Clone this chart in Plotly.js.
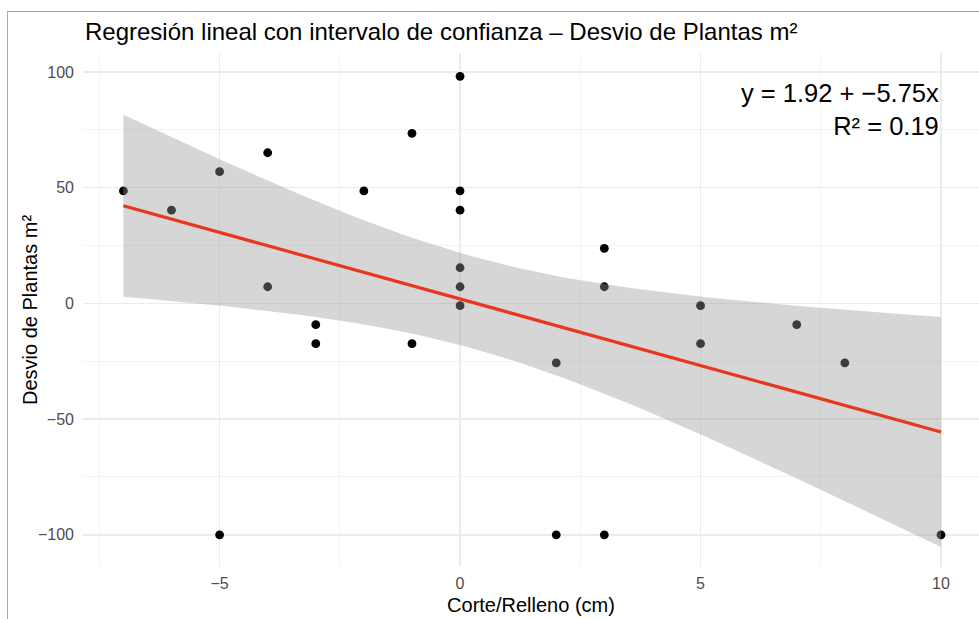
<!DOCTYPE html>
<html>
<head>
<meta charset="utf-8">
<script src="https://cdn.plot.ly/plotly-3.0.1.min.js"></script>
<style>
  html, body { margin: 0; padding: 0; background: #ffffff; }
  #wrap { position: relative; width: 979px; height: 619px; overflow: hidden; }
  #chart { position: absolute; left: 0; top: 0; width: 979px; height: 619px; }
  #frame { position: absolute; left: 7px; top: 11px; width: 980px; height: 620px;
           border-top: 1px solid #a8a8a8; border-left: 1px solid #a8a8a8; pointer-events: none; }
</style>
</head>
<body>
<div id="wrap">
  <div id="chart"></div>
  <div id="frame"></div>
</div>
<script>
// ---- Data ----
const corteRelleno = [-7, -6, -5, -5, -4, -4, -3, -3, -2, -1, -1, 0, 0, 0, 0, 0, 0, 2, 2, 3, 3, 3, 5, 5, 7, 8, 10];
const desvioPlantas = [48.6, 40.3, 56.9, -100, 65.1, 7.2, -9.2, -17.4, 48.6, 73.5, -17.4, 98.1, 48.6, 40.3, 15.4, 7.2, -1.0, -25.7, -100, 23.8, 7.2, -100, -1.0, -17.4, -9.2, -25.7, -100];

// Fitted model as reported on the chart
const intercept = 1.92;
const slope = -5.75;
const r2 = 0.19;
const tCrit = 2.06; // t(0.975, df = n - 2)

const titleText = "Regresión lineal con intervalo de confianza – Desvio de Plantas m²";
const xTitle = "Corte/Relleno (cm)";
const yTitle = "Desvio de Plantas m²";

// ---- Confidence band derived from the data ----
const n = corteRelleno.length;
const xMean = corteRelleno.reduce((a, b) => a + b, 0) / n;
const sxx = corteRelleno.reduce((a, x) => a + (x - xMean) ** 2, 0);
const sse = corteRelleno.reduce((a, x, i) => a + (desvioPlantas[i] - (intercept + slope * x)) ** 2, 0);
const sRes = Math.sqrt(sse / (n - 2));
const xMin = Math.min(...corteRelleno), xMax = Math.max(...corteRelleno);
const gx = [], gUp = [], gLo = [], gFit = [];
const steps = 80;
for (let i = 0; i <= steps; i++) {
  const x = xMin + (xMax - xMin) * i / steps;
  const f = intercept + slope * x;
  const hw = tCrit * sRes * Math.sqrt(1 / n + (x - xMean) ** 2 / sxx);
  gx.push(x); gFit.push(f); gUp.push(f + hw); gLo.push(f - hw);
}
const polyX = gx.concat(gx.slice().reverse());
const polyY = gUp.concat(gLo.slice().reverse());

const FONT = "Liberation Sans, Arial, Helvetica, sans-serif";

const traces = [
  {
    x: corteRelleno, y: desvioPlantas, type: "scatter", mode: "markers",
    marker: { color: "#000000", size: 8.8 }, hoverinfo: "x+y", showlegend: false
  },
  {
    x: polyX, y: polyY, type: "scatter", mode: "lines", fill: "toself",
    fillcolor: "rgba(153,153,153,0.4)", line: { width: 0, color: "rgba(0,0,0,0)" },
    hoverinfo: "skip", showlegend: false
  },
  {
    x: gx, y: gFit, type: "scatter", mode: "lines",
    line: { color: "#e8361f", width: 3.2 }, hoverinfo: "skip", showlegend: false
  }
];

const layout = {
  width: 979, height: 619,
  margin: { l: 83, r: 0, t: 53, b: 52 },
  paper_bgcolor: "rgba(0,0,0,0)", plot_bgcolor: "#ffffff",
  font: { family: FONT, color: "#000000" },
  title: {
    text: titleText, font: { size: 24, color: "#000000", family: FONT },
    xref: "container", yref: "container", x: 85 / 979, xanchor: "left",
    y: 1 - 32 / 619, yanchor: "middle"
  },
  xaxis: {
    range: [-7.84, 10.79], dtick: 5, tick0: 0, ticks: "",
    showgrid: true, gridcolor: "#ebebeb", gridwidth: 1.4,
    minor: { dtick: 2.5, tick0: 0, showgrid: true, gridcolor: "#f0f0f0", gridwidth: 0.8 },
    zeroline: false, showline: false,
    tickfont: { size: 16, color: "#4d4d4d", family: FONT },
    ticklabelstandoff: 5,
    title: { text: xTitle, font: { size: 20, color: "#000000", family: FONT }, standoff: 6 }
  },
  yaxis: {
    range: [-113.9, 108.2], dtick: 50, tick0: 0, ticks: "",
    showgrid: true, gridcolor: "#ebebeb", gridwidth: 1.4,
    minor: { dtick: 25, tick0: 0, showgrid: true, gridcolor: "#f0f0f0", gridwidth: 0.8 },
    zeroline: false, showline: false,
    tickfont: { size: 16, color: "#4d4d4d", family: FONT },
    ticklabelstandoff: 8
  },
  annotations: [
    {
      x: xMax, y: 84, xref: "x", yref: "y", xanchor: "right", yanchor: "middle", align: "right",
      text: "y = " + intercept.toFixed(2) + " + " + "\u2212" + Math.abs(slope).toFixed(2) + "x<br>R² = " + r2.toFixed(2),
      showarrow: false, font: { size: 25.5, color: "#000000", family: FONT }
    },
    {
      x: (30 - 83) / 896, y: 0.5, xref: "paper", yref: "paper", xanchor: "center", yanchor: "middle",
      textangle: -90, text: yTitle, showarrow: false,
      font: { size: 20, color: "#000000", family: FONT }
    }
  ]
};

Plotly.newPlot("chart", traces, layout, { displayModeBar: false, staticPlot: true });
</script>
</body>
</html>
